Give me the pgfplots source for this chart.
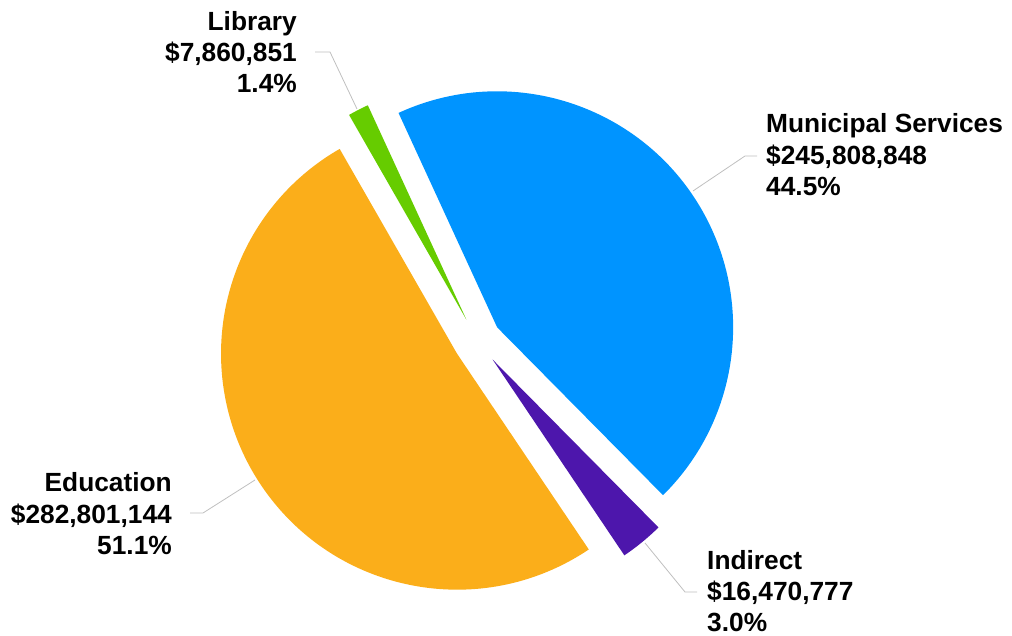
\documentclass[border=0pt]{standalone}
\usepackage{fontspec}
\setmainfont{Liberation Sans}
\usepackage{pgfplots}
\pgfplotsset{compat=1.18}
\definecolor{cMun}{RGB}{0,148,255}
\definecolor{cInd}{RGB}{77,22,172}
\definecolor{cEdu}{RGB}{251,174,26}
\definecolor{cLib}{RGB}{102,204,0}
\definecolor{cLead}{RGB}{191,191,191}
% values in millions of dollars
\def\vMun{245.808848}
\def\vInd{16.470777}
\def\vEdu{282.801144}
\def\vLib{7.860851}
\pgfmathsetmacro\total{\vMun+\vInd+\vEdu+\vLib}
\pgfmathsetmacro\sA{114.7}
\pgfmathsetmacro\eA{\sA-360*(\vMun/\total)}
\pgfmathsetmacro\sB{\eA}
\pgfmathsetmacro\eB{\sB-360*(\vInd/\total)}
\pgfmathsetmacro\sC{\eB}
\pgfmathsetmacro\eC{\sC-360*(\vEdu/\total)}
\pgfmathsetmacro\sD{\eC}
\pgfmathsetmacro\eD{\sD-360*(\vLib/\total)}
\pgfmathsetmacro\mA{(\sA+\eA)/2}
\pgfmathsetmacro\mB{(\sB+\eB)/2}
\pgfmathsetmacro\mC{(\sC+\eC)/2}
\pgfmathsetmacro\mD{(\sD+\eD)/2}
\def\R{236pt}
\def\D{24pt}
\newcommand\lab{\fontsize{26.3}{31.2}\selectfont\bfseries}
\begin{document}
\begin{tikzpicture}
\begin{axis}[hide axis, scale only axis, width=1012pt, height=636pt,
  xmin=0, xmax=1012, ymin=0, ymax=636, clip=false]
\path (axis cs:0,0) rectangle (axis cs:1012,636);
% slices
\fill[cMun] (axis cs:477.4,295) ++(\mA:\D) -- ++(\sA:\R) arc[start angle=\sA, end angle=\eA, radius=\R] -- cycle;
\fill[cInd] (axis cs:477.4,295) ++(\mB:\D) -- ++(\sB:\R) arc[start angle=\sB, end angle=\eB, radius=\R] -- cycle;
\fill[cEdu] (axis cs:477.4,295) ++(\mC:\D) -- ++(\sC:\R) arc[start angle=\sC, end angle=\eC, radius=\R] -- cycle;
\fill[cLib] (axis cs:477.4,295) ++(\mD:\D) -- ++(\sD:\R) arc[start angle=\sD, end angle=\eD, radius=\R] -- cycle;
% leader lines
\addplot[cLead, line width=0.8pt, no marks] coordinates {(357,527) (330,584) (315,584)};
\addplot[cLead, line width=0.8pt, no marks] coordinates {(693,445) (745,480) (757,480)};
\addplot[cLead, line width=0.8pt, no marks] coordinates {(255,156) (203,123) (190,123)};
\addplot[cLead, line width=0.8pt, no marks] coordinates {(645,93) (685,44) (697,44)};
% labels
\node[anchor=base east, inner sep=0pt, font=\lab] at (axis cs:297,605.5) {Library};
\node[anchor=base east, inner sep=0pt, font=\lab] at (axis cs:297,574.3) {\$7,860,851};
\node[anchor=base east, inner sep=0pt, font=\lab] at (axis cs:297,543.1) {1.4\%};
\node[anchor=base west, inner sep=0pt, font=\lab] at (axis cs:766,503) {Municipal Services};
\node[anchor=base west, inner sep=0pt, font=\lab] at (axis cs:766,471.8) {\$245,808,848};
\node[anchor=base west, inner sep=0pt, font=\lab] at (axis cs:766,440.6) {44.5\%};
\node[anchor=base east, inner sep=0pt, font=\lab] at (axis cs:172,144) {Education};
\node[anchor=base east, inner sep=0pt, font=\lab] at (axis cs:172,112.8) {\$282,801,144};
\node[anchor=base east, inner sep=0pt, font=\lab] at (axis cs:172,81.6) {51.1\%};
\node[anchor=base west, inner sep=0pt, font=\lab] at (axis cs:707,66.5) {Indirect};
\node[anchor=base west, inner sep=0pt, font=\lab] at (axis cs:707,35.3) {\$16,470,777};
\node[anchor=base west, inner sep=0pt, font=\lab] at (axis cs:707,4.1) {3.0\%};
\end{axis}
\end{tikzpicture}
\end{document}
